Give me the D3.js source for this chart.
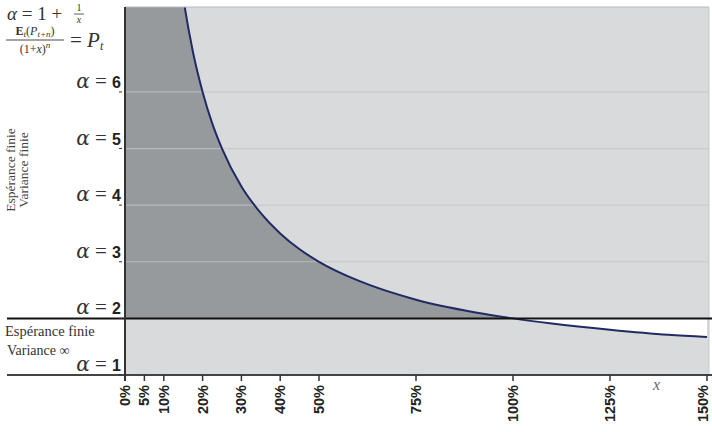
<!DOCTYPE html>
<html>
<head>
<meta charset="utf-8">
<script src="https://cdn.jsdelivr.net/npm/d3@7"></script>
<style>
  body { margin: 0; background: #fff; }
  svg { display: block; }
</style>
</head>
<body>
<svg id="chart" width="712" height="432"></svg>
<script>
// x en %, alpha
const xPct = [15, 17.5, 20, 22.5, 25, 30, 35, 40, 45, 50, 60, 75, 90, 100, 110, 125, 140, 150];
const alphaVals = [7.67, 6.71, 6, 5.44, 5, 4.33, 3.86, 3.5, 3.22, 3, 2.67, 2.33, 2.11, 2, 1.91, 1.8, 1.71, 1.67];
const xTicks = [0, 5, 10, 20, 30, 40, 50, 75, 100, 125, 150];
const alphaTicks = [1, 2, 3, 4, 5, 6];

const svg = d3.select("#chart");
const pLeft = 125, pRight = 709, pTop = 7, pBottom = 375;

const x = d3.scaleLinear().domain([0, 150]).range([pLeft, 707]);
const y = d3.scaleLinear().domain([1, 7.5]).range([pBottom, pTop]);

const pts = xPct.map((v, i) => ({ x: v, a: alphaVals[i] }));
// prolonger vers le haut jusqu'au bord
const ptsTop = [{ x: 13, a: 8.7 }].concat(pts);

svg.append("defs").append("clipPath").attr("id", "plot")
  .append("rect").attr("x", pLeft).attr("y", pTop)
  .attr("width", pRight - pLeft).attr("height", pBottom - pTop);

const plot = svg.append("g").attr("clip-path", "url(#plot)");

// fond clair
plot.append("rect").attr("x", pLeft).attr("y", pTop)
  .attr("width", pRight - pLeft).attr("height", pBottom - pTop)
  .attr("fill", "#d8dadc");

// zone sombre sous la courbe (au-dessus de alpha = 2)
const darkPts = [{ x: 0, a: 20 }].concat(ptsTop.filter(d => d.x <= 100));
plot.append("path")
  .datum(darkPts)
  .attr("fill", "#979a9d")
  .attr("d", d3.area()
    .x(d => x(d.x))
    .y0(y(2))
    .y1(d => y(d.a))
    .curve(d3.curveMonotoneX));

// zone blanche entre alpha = 2 et la courbe (x > 100 %)
plot.append("path")
  .datum(pts.filter(d => d.x >= 100))
  .attr("fill", "#ffffff")
  .attr("d", d3.area()
    .x(d => x(d.x))
    .y0(y(2))
    .y1(d => y(d.a))
    .curve(d3.curveMonotoneX));

// grille
plot.selectAll(".grid")
  .data(alphaTicks.filter(a => a > 2))
  .enter().append("line")
  .attr("x1", pLeft).attr("x2", pRight)
  .attr("y1", d => y(d)).attr("y2", d => y(d))
  .attr("stroke", "#c2c5c8")
  .attr("stroke-opacity", 0.75)
  .attr("stroke-width", 1.2);

// courbe
plot.append("path")
  .datum(ptsTop)
  .attr("fill", "none")
  .attr("stroke", "#202a63")
  .attr("stroke-width", 2)
  .attr("d", d3.line()
    .x(d => x(d.x))
    .y(d => y(d.a))
    .curve(d3.curveMonotoneX));

// bord haut et droit
svg.append("line").attr("x1", pLeft).attr("x2", pRight).attr("y1", pTop).attr("y2", pTop)
  .attr("stroke", "#b5b8ba").attr("stroke-width", 1);
svg.append("line").attr("x1", pRight).attr("x2", pRight).attr("y1", pTop).attr("y2", pBottom)
  .attr("stroke", "#c5c8ca").attr("stroke-width", 1);

// lignes alpha = 2 et alpha = 1
svg.append("line").attr("x1", 7).attr("x2", 712).attr("y1", y(2)).attr("y2", y(2))
  .attr("stroke", "#111").attr("stroke-width", 2);
svg.append("line").attr("x1", 7).attr("x2", 712).attr("y1", pBottom).attr("y2", pBottom)
  .attr("stroke", "#444").attr("stroke-width", 2);

// axe vertical
svg.append("line").attr("x1", pLeft).attr("x2", pLeft).attr("y1", pTop).attr("y2", pBottom + 6)
  .attr("stroke", "#333").attr("stroke-width", 2);

// ticks et libellés alpha
const aLab = svg.selectAll(".alab")
  .data(alphaTicks)
  .enter().append("g")
  .attr("transform", d => `translate(${pLeft - 3},${y(d)})`);
aLab.append("line").attr("x1", -3).attr("x2", 0).attr("y1", 0).attr("y2", 0)
  .attr("stroke", "#333").attr("stroke-width", 1);
const aText = aLab.append("text")
  .attr("x", -1).attr("y", -4)
  .attr("text-anchor", "end")
  .attr("fill", "#222");
aText.append("tspan")
  .attr("font-family", "DejaVu Serif, serif")
  .attr("font-style", "italic")
  .attr("font-size", 20)
  .attr("fill", "#333")
  .text("α");
aText.append("tspan")
  .attr("font-family", "Liberation Serif, serif")
  .attr("font-size", 21)
  .attr("fill", "#333")
  .text(" = ");
aText.append("tspan")
  .attr("font-family", "Liberation Sans, Arial, sans-serif")
  .attr("font-weight", "bold")
  .attr("font-size", 16)
  .text(d => d);

// axe x : ticks
const xt = svg.selectAll(".xt")
  .data(xTicks)
  .enter().append("g")
  .attr("transform", d => `translate(${x(d)},${pBottom})`);
xt.append("line").attr("y1", 0).attr("y2", 6)
  .attr("stroke", "#333").attr("stroke-width", 1.5);
xt.append("text")
  .attr("transform", d => `translate(${Math.min(x(d) + 5, 708) - x(d)},10) rotate(-90)`)
  .attr("text-anchor", "end")
  .attr("font-family", "Liberation Sans, Arial, sans-serif")
  .attr("font-weight", "bold")
  .attr("font-size", 14.5)
  .attr("fill", "#222")
  .text(d => d + "%");

svg.append("text").attr("x", 653).attr("y", 390)
  .attr("font-family", "Liberation Serif, serif").attr("font-style", "italic")
  .attr("font-size", 16).attr("fill", "#666").text("x");

// textes de gauche
const serif = "Liberation Serif, DejaVu Serif, serif";
svg.append("text").attr("x", 5).attr("y", 336)
  .attr("font-family", serif).attr("font-size", 14.5).attr("fill", "#333")
  .text("Espérance finie");
svg.append("text").attr("x", 7).attr("y", 355)
  .attr("font-family", serif).attr("font-size", 14).attr("fill", "#333")
  .text("Variance ∞");

svg.append("text")
  .attr("transform", "translate(15,170) rotate(-90)")
  .attr("text-anchor", "middle")
  .attr("font-family", serif).attr("font-size", 13.5).attr("fill", "#444")
  .text("Espérance finie");
svg.append("text")
  .attr("transform", "translate(28,170) rotate(-90)")
  .attr("text-anchor", "middle")
  .attr("font-family", serif).attr("font-size", 13.5).attr("fill", "#444")
  .text("Variance finie");

// formule en haut à gauche
const f = svg.append("g").attr("fill", "#333").attr("font-family", serif);
f.append("text").attr("x", 7).attr("y", 20).attr("font-size", 19)
  .html('<tspan font-style="italic">α</tspan> = 1 +');
f.append("text").attr("x", 79).attr("y", 11).attr("font-size", 10)
  .attr("text-anchor", "middle").text("1");
f.append("line").attr("x1", 74).attr("x2", 84).attr("y1", 14).attr("y2", 14)
  .attr("stroke", "#333").attr("stroke-width", 0.8);
f.append("text").attr("x", 79).attr("y", 23).attr("font-size", 10)
  .attr("font-style", "italic").attr("text-anchor", "middle").text("x");

f.append("text").attr("x", 35).attr("y", 35).attr("font-size", 12)
  .attr("text-anchor", "middle")
  .html('<tspan font-weight="bold">E</tspan><tspan font-size="9" dy="1.5" font-style="italic">t</tspan><tspan dy="-1.5">(</tspan><tspan font-style="italic">P</tspan><tspan font-size="9" dy="1.5" font-style="italic">t+n</tspan><tspan dy="-1.5">)</tspan>');
f.append("line").attr("x1", 6).attr("x2", 64).attr("y1", 40).attr("y2", 40)
  .attr("stroke", "#333").attr("stroke-width", 0.9);
f.append("text").attr("x", 35).attr("y", 53).attr("font-size", 12)
  .attr("text-anchor", "middle")
  .html('(1+<tspan font-style="italic">x</tspan>)<tspan font-size="9" dy="-5" font-style="italic">n</tspan>');
f.append("text").attr("x", 70).attr("y", 47).attr("font-size", 21)
  .html('= <tspan font-style="italic">P</tspan><tspan font-size="12" dy="3" font-style="italic">t</tspan>');
</script>
</body>
</html>
